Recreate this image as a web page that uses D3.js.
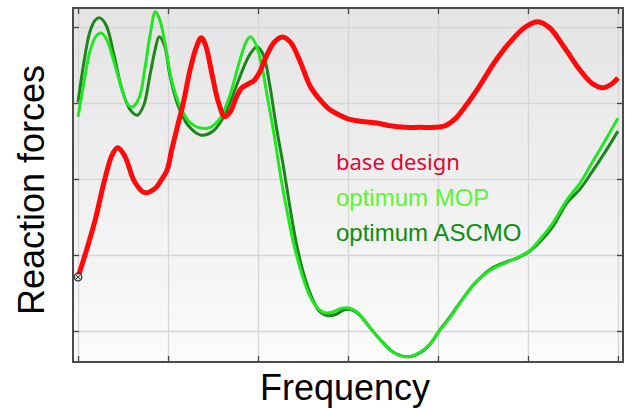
<!DOCTYPE html>
<html>
<head>
<meta charset="utf-8">
<script src="https://cdn.jsdelivr.net/npm/d3@7"></script>
<style>
  body { margin: 0; background: #fff; }
  svg { display: block; }
</style>
</head>
<body>
<svg id="chart" width="625" height="408"></svg>
<script>
// frequency (tick units 0..60) vs reaction force (tick units 0..40)
var baseDesign = [
  [0,7.1],[0.8,10.1],[1.9,14.6],[3.0,20.1],[3.8,23.2],[4.4,24.1],[5.2,23.0],[6.3,19.6],[7.4,18.2],[8.6,18.8],
  [9.1,19.6],[9.9,21.2],[10.4,23.8],[11.0,26.7],[11.7,30.0],[12.4,34.1],[13.1,37.2],[13.7,38.6],[14.2,37.5],[14.9,33.7],
  [15.6,30.1],[16.3,28.2],[16.9,28.8],[17.6,30.8],[18.2,32.0],[18.9,32.5],[19.6,33.0],[20.2,34.1],[20.9,36.1],[21.8,38.0],
  [22.7,38.7],[23.6,38.0],[24.7,35.4],[25.8,32.2],[26.9,30.4],[28.0,29.1],[29.1,28.4],[30.0,27.9],[31.3,27.6],[33.0,27.4],
  [34.7,27.0],[36.3,26.8],[38.0,26.8],[39.7,26.8],[40.8,27.0],[41.9,27.9],[43.0,29.5],[44.7,32.4],[46.3,35.4],[48.0,38.0],
  [49.7,40.0],[51.1,40.7],[52.4,39.9],[54.1,37.2],[55.8,34.3],[57.1,32.6],[58.3,32.0],[59.3,32.5],[60,33.3]
];

var optimumMOP = [
  [0,28.2],[0.7,33.0],[1.3,36.7],[2.0,38.8],[2.6,39.2],[3.2,38.3],[4.1,35.0],[4.9,31.7],[5.6,29.7],[6.1,29.5],
  [6.8,30.7],[7.4,34.3],[8.0,38.9],[8.6,42.0],[9.1,40.9],[9.7,37.6],[10.4,33.0],[11.3,29.7],[12.4,27.5],[13.6,26.7],
  [14.7,26.8],[15.8,28.0],[16.9,31.1],[18.0,35.7],[18.8,38.3],[19.2,38.7],[19.8,37.6],[20.4,35.0],[21.1,30.4],[21.8,25.8],
  [22.4,21.2],[23.2,15.9],[24.0,11.3],[24.9,7.4],[25.8,4.5],[26.7,2.9],[27.4,2.4],[28.3,2.5],[29.3,3.0],[30.2,3.0],
  [31.1,2.4],[32.2,0.8],[33.6,-1.2],[35.0,-2.8],[36.6,-3.4],[38.0,-2.8],[39.1,-1.7],[40.2,0.1],[41.3,1.7],[42.8,4.3],
  [44.1,6.3],[45.8,8.0],[47.4,8.9],[48.9,9.7],[50.1,10.5],[51.3,12.0],[52.7,14.1],[54.3,17.2],[55.8,19.5],[57.1,22.1],
  [58.6,25.1],[60,28.0]
];

var optimumASCMO = [
  [0,30.1],[0.7,35.7],[1.3,39.3],[1.9,40.9],[2.4,41.2],[3.1,40.3],[4.0,36.3],[4.9,31.7],[5.8,29.1],[6.6,28.4],
  [7.3,29.7],[8.0,33.7],[8.6,37.2],[9.0,38.7],[9.6,37.6],[10.2,33.7],[11.1,29.7],[12.2,27.1],[13.6,25.8],[14.9,26.2],
  [16.0,27.8],[17.1,30.7],[18.2,34.1],[19.1,36.4],[19.9,37.4],[20.6,36.3],[21.3,32.4],[22.0,27.1],[22.8,21.8],[23.6,15.9],
  [24.3,11.3],[25.2,7.0],[26.1,4.1],[26.9,2.5],[27.8,2.0],[28.7,2.2],[29.6,2.8],[30.4,2.8],[31.3,2.1],[32.4,0.5],
  [33.8,-1.4],[35.2,-2.9],[36.7,-3.4],[38.1,-2.8],[39.2,-1.6],[40.3,0.3],[41.4,2.0],[42.9,4.5],[44.2,6.4],[45.9,8.2],
  [47.6,9.1],[49.0,9.7],[50.2,10.5],[51.4,11.8],[52.8,13.8],[54.3,16.8],[55.8,18.7],[57.1,20.9],[58.6,23.6],[60,26.3]
];

var xTicks = [0, 10, 20, 30, 40, 50, 60];
var yTicks = [0, 10, 20, 30, 40];
var legendLabels = ["base design", "optimum MOP", "optimum ASCMO"];

var svg = d3.select("#chart");
var plotL = 73, plotR = 623, plotT = 8, plotB = 362;

var x = d3.scaleLinear().domain([-0.56, 60.56]).range([plotL, plotR]);
var y = d3.scaleLinear().domain([-4.08, 42.5]).range([plotB, plotT]);

var defs = svg.append("defs");
var grad = defs.append("linearGradient")
    .attr("id", "bg").attr("x1", 0).attr("y1", 0).attr("x2", 0).attr("y2", 1);
grad.append("stop").attr("offset", "0%").attr("stop-color", "#e4e4e4");
grad.append("stop").attr("offset", "100%").attr("stop-color", "#fbfbfb");

defs.append("clipPath").attr("id", "clip")
  .append("rect").attr("x", plotL).attr("y", plotT).attr("width", plotR - plotL).attr("height", plotB - plotT);

svg.append("rect")
    .attr("x", plotL).attr("y", plotT)
    .attr("width", plotR - plotL).attr("height", plotB - plotT)
    .attr("fill", "url(#bg)");

// grid
svg.append("g")
    .attr("transform", "translate(0," + plotB + ")")
    .call(d3.axisBottom(x).tickValues(xTicks).tickSize(-(plotB - plotT)).tickFormat(""))
    .call(function(g){ g.select(".domain").remove(); })
    .selectAll("line").attr("stroke", "#d6d6d6").attr("stroke-width", 1.3);

svg.append("g")
    .attr("transform", "translate(" + plotL + ",0)")
    .call(d3.axisLeft(y).tickValues(yTicks).tickSize(-(plotR - plotL)).tickFormat(""))
    .call(function(g){ g.select(".domain").remove(); })
    .selectAll("line").attr("stroke", "#d6d6d6").attr("stroke-width", 1.3);

// inward ticks on all four sides
var tickLen = 6;
function inwardTicks(axis, tx, ty) {
  svg.append("g")
      .attr("transform", "translate(" + tx + "," + ty + ")")
      .call(axis.tickSize(tickLen).tickFormat(""))
      .call(function(g){ g.select(".domain").remove(); })
      .selectAll("line").attr("stroke", "#444").attr("stroke-width", 1.3);
}
inwardTicks(d3.axisTop(x).tickValues(xTicks), 0, plotB);
inwardTicks(d3.axisBottom(x).tickValues(xTicks), 0, plotT);
inwardTicks(d3.axisRight(y).tickValues(yTicks), plotL, 0);
inwardTicks(d3.axisLeft(y).tickValues(yTicks), plotR, 0);

var line = d3.line()
    .x(function(d){ return x(d[0]); })
    .y(function(d){ return y(d[1]); })
    .curve(d3.curveCatmullRom.alpha(0.5));

var plot = svg.append("g").attr("clip-path", "url(#clip)");

plot.append("path").datum(optimumASCMO)
    .attr("d", line).attr("fill", "none")
    .attr("stroke", "#1c861c").attr("stroke-width", 3);

plot.append("path").datum(optimumMOP)
    .attr("d", line).attr("fill", "none")
    .attr("stroke", "#22e622").attr("stroke-width", 3);

plot.append("path").datum(baseDesign)
    .attr("d", line).attr("fill", "none")
    .attr("stroke", "#ff0a0a").attr("stroke-width", 5)
    .attr("stroke-linejoin", "round");

// start marker
var m = plot.append("g")
    .attr("transform", "translate(" + x(baseDesign[0][0]) + "," + y(baseDesign[0][1]) + ")");
m.append("circle").attr("r", 3.8).attr("fill", "#ddd").attr("stroke", "#333").attr("stroke-width", 1.3);
m.append("path").attr("d", "M-2.5,-2.5L2.5,2.5M-2.5,2.5L2.5,-2.5").attr("stroke", "#333").attr("stroke-width", 1);

// frame
svg.append("rect")
    .attr("x", plotL).attr("y", plotT)
    .attr("width", plotR - plotL).attr("height", plotB - plotT)
    .attr("fill", "none").attr("stroke", "#4a4a4a").attr("stroke-width", 2);

// legend text
var legendColors = ["#e0062e", "#5cf534", "#108c10"];
var legendFonts = ["'Noto Sans', sans-serif", "'Liberation Sans', Arial, sans-serif", "'Liberation Sans', Arial, sans-serif"];
var legendSizes = [22, 24, 24];
svg.append("g").selectAll("text")
    .data(legendLabels)
  .enter().append("text")
    .attr("x", 336)
    .attr("y", function(d, i){ return 170 + i * 35.5; })
    .attr("fill", function(d, i){ return legendColors[i]; })
    .style("font-family", function(d, i){ return legendFonts[i]; })
    .style("font-size", function(d, i){ return legendSizes[i] + "px"; })
    .text(function(d){ return d; });

// axis titles
svg.append("text")
    .attr("x", 345)
    .attr("y", 400)
    .attr("text-anchor", "middle")
    .style("font-family", "'Liberation Sans', Arial, sans-serif")
    .style("font-size", "36px")
    .attr("fill", "#000")
    .text("Frequency");

svg.append("text")
    .attr("transform", "translate(44,190) rotate(-90)")
    .attr("text-anchor", "middle")
    .style("font-family", "'Liberation Sans', Arial, sans-serif")
    .style("font-size", "36px")
    .attr("fill", "#000")
    .text("Reaction forces");
</script>
</body>
</html>
